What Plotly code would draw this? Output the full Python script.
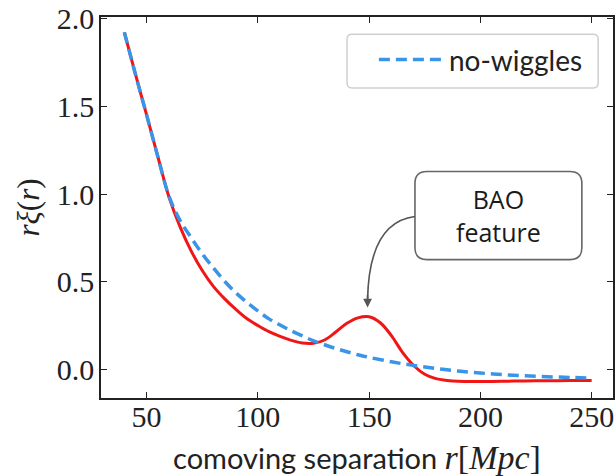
import plotly.graph_objects as go

# comoving separation r [Mpc]
r_wiggle = [40, 45, 50, 55, 60, 65, 70, 75, 80, 85, 90, 95, 100, 105, 110, 115,
            120, 125, 130, 135, 140, 145, 150, 155, 160, 165, 170, 175, 180, 185,
            190, 200, 210, 220, 230, 240, 250]
# r * xi(r) with the BAO bump
xi_wiggle = [1.92, 1.68, 1.45, 1.215, 0.985, 0.815, 0.677, 0.565, 0.475, 0.405, 0.345,
             0.292, 0.252, 0.217, 0.19, 0.168, 0.153, 0.152, 0.17, 0.215, 0.265,
             0.296, 0.302, 0.268, 0.195, 0.10, 0.025, -0.025, -0.05, -0.06, -0.065,
             -0.066, -0.065, -0.063, -0.062, -0.061, -0.060]

r_smooth = [40, 45, 50, 55, 60, 65, 70, 75, 80, 85, 90, 95, 100, 105, 110, 115,
            120, 125, 130, 135, 140, 145, 150, 160, 170, 180, 190, 200, 210, 220,
            230, 240, 250]
# r * xi(r), no-wiggle template
xi_smooth = [1.92, 1.68, 1.45, 1.215, 0.99, 0.85, 0.752, 0.66, 0.58, 0.505, 0.44,
             0.385, 0.335, 0.29, 0.255, 0.222, 0.193, 0.165, 0.143, 0.122, 0.103,
             0.086, 0.071, 0.046, 0.025, 0.008, -0.007, -0.018, -0.027, -0.034,
             -0.039, -0.043, -0.047]

x_ticks = [50, 100, 150, 200, 250]
y_ticks = [0.0, 0.5, 1.0, 1.5, 2.0]

RED = "#f01616"
BLUE = "#3a94e8"
SERIF = "Liberation Serif"
SANS = "Lato"

fig = go.Figure()
fig.add_trace(go.Scatter(
    x=r_wiggle, y=xi_wiggle, mode="lines", showlegend=False,
    line=dict(color=RED, width=3, shape="spline", smoothing=1.0),
))
fig.add_trace(go.Scatter(
    x=r_smooth, y=xi_smooth, mode="lines", name="no-wiggles",
    line=dict(color=BLUE, width=3.5, dash="11px,6px", shape="spline", smoothing=1.0),
))

def rounded_rect(x0, x1, y0, y1, rx, ry):
    return (f"M{x0+rx},{y0} L{x1-rx},{y0} Q{x1},{y0} {x1},{y0+ry} "
            f"L{x1},{y1-ry} Q{x1},{y1} {x1-rx},{y1} L{x0+rx},{y1} "
            f"Q{x0},{y1} {x0},{y1-ry} L{x0},{y0+ry} Q{x0},{y0} {x0+rx},{y0} Z")

shapes = [
    # legend frame
    dict(type="path", xref="paper", yref="paper",
         path=rounded_rect(0.4805, 0.971, 0.8136, 0.955, 0.010, 0.013),
         line=dict(color="#cfcfcf", width=1.5), fillcolor="white", layer="below"),
    # callout box
    dict(type="path", xref="x", yref="y",
         path=rounded_rect(170.6, 245.6, 0.627, 1.128, 5.4, 0.068),
         line=dict(color="#666666", width=1.6), fillcolor="white", layer="above"),
    # curved connector from the callout to the peak
    dict(type="path", xref="x", yref="y",
         path="M170.6,0.872 Q150.0,0.84 149.3,0.40",
         line=dict(color="#555555", width=1.6), layer="above"),
]

annotations = [
    dict(x=149.3, y=0.355, xref="x", yref="y", ax=0, ay=-14, showarrow=True,
         arrowhead=2, arrowsize=1.1, arrowwidth=1.6, arrowcolor="#555555", text=""),
    dict(x=208.1, y=0.877, xref="x", yref="y", showarrow=False,
         text="BAO<br>feature", font=dict(family="Open Sans", size=25, color="#1a1a1a"),
         align="center"),
]

axis_common = dict(
    showline=True, linecolor="#222222", linewidth=1.5, mirror="ticks",
    ticks="inside", ticklen=6, tickwidth=1.3, tickcolor="#222222",
    showgrid=False, zeroline=False, ticklabeloverflow="allow",
    tickfont=dict(family=SERIF, size=30, color="#222222"),
)

fig.update_layout(
    width=616, height=476,
    margin=dict(l=101, r=3, t=17, b=78, autoexpand=False),
    paper_bgcolor="white", plot_bgcolor="white",
    font=dict(family=SERIF, size=30, color="#222222"),
    xaxis=dict(range=[29.5, 259.6], tickvals=x_ticks, ticktext=[str(v) for v in x_ticks],
               ticklabelstandoff=-9,
               title=dict(text="comoving separation <span style='font-family:Liberation Serif;font-size:34px'><i>r</i>[<i>Mpc</i>]</span>",
                          font=dict(family=SANS, size=29, color="#222222"), standoff=20),
               **axis_common),
    yaxis=dict(range=[-0.16, 2.007], tickvals=y_ticks, ticktext=[f"{v:.1f}" for v in y_ticks],
               ticklabelstandoff=-1,
               title=dict(text="<i>rξ</i>(<i>r</i>)",
                          font=dict(family=SERIF, size=31, color="#222222"), standoff=8),
               **axis_common),
    legend=dict(x=0.533, y=0.953, xanchor="left", yanchor="top", itemwidth=65,
                bgcolor="rgba(0,0,0,0)", borderwidth=0,
                font=dict(family=SANS, size=28, color="#222222")),
    shapes=shapes,
    annotations=annotations,
)

fig.write_html("out.html")
